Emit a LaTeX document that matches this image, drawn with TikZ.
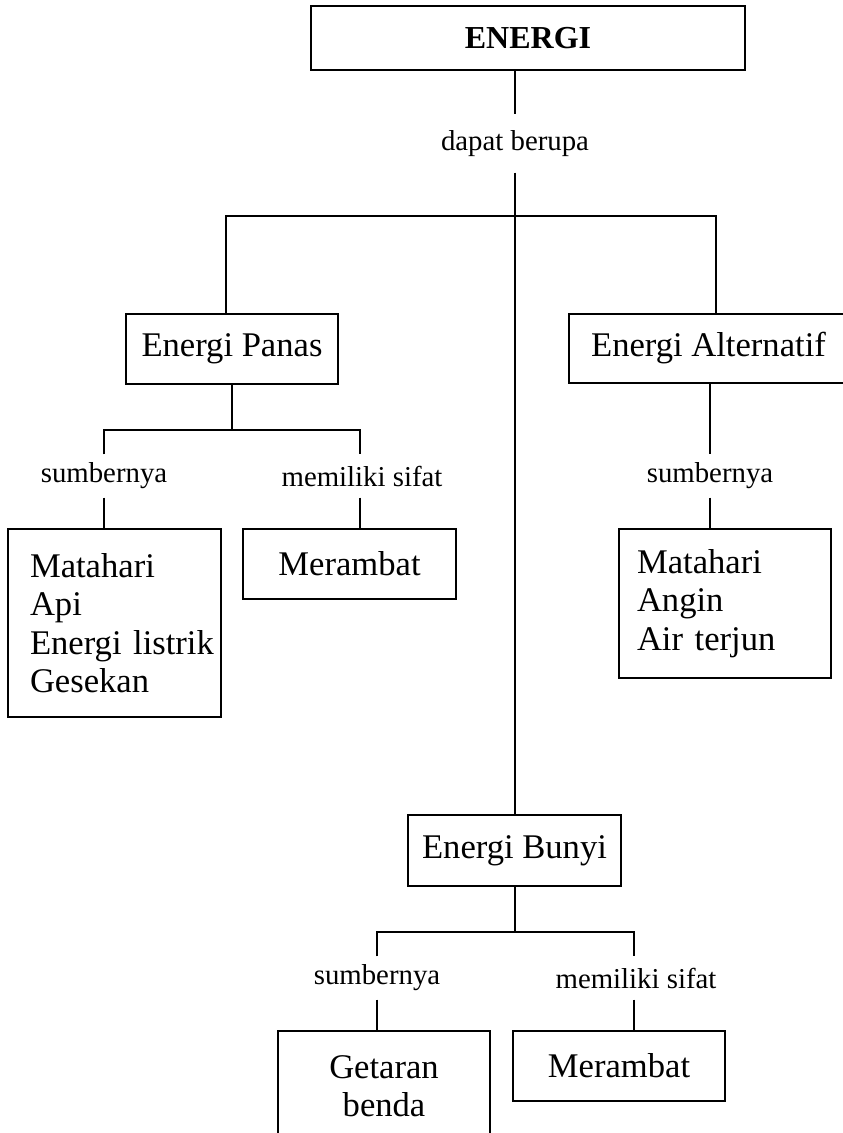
\documentclass[tikz,border=0pt]{standalone}
\usepackage{fontspec}
\setmainfont{Liberation Serif}
\usepackage{tikz}
\usetikzlibrary{positioning,calc}

\begin{document}
\begin{tikzpicture}[x=0.5pt, y=-0.5pt, line width=0.7pt,
  box/.style={draw, inner sep=0pt, fill=white, font=\fontsize{17.3}{19.25}\selectfont},
  lbl/.style={inner sep=0pt, minimum height=21pt, font=\fontsize{14.4}{16}\selectfont}]
\useasboundingbox (0,0) rectangle (842,1133);
% top
\node[box, minimum width=217pt, minimum height=32pt, font=\fontsize{16}{19}\selectfont\bfseries] (energi) at (528,38) {ENERGI};
\node[lbl, minimum height=28.5pt] (berupa) at (515,143.5) {dapat berupa};
\draw (energi.south -| berupa) -- (berupa.north);
% three kinds
\node[box, minimum width=106pt, minimum height=35pt] (panas) at (232,349) {Energi Panas};
\node[box, minimum width=139.5pt, minimum height=34.5pt] (alt) at (708.5,348.5) {Energi Alternatif};
\node[box, minimum width=106.5pt, minimum height=35.5pt] (bunyi) at (514.5,850.5) {Energi Bunyi};
\coordinate (jl) at (226,216);
\coordinate (jr) at (716,216);
\draw (jl |- panas.north) -- (jl) -- (jr) -- (jr |- alt.north);
\draw (berupa.south) -- (berupa.south |- bunyi.north);
% energi panas
\coordinate (pl) at (104,430);
\coordinate (pr) at (360,430);
\draw (panas.south) -- (panas.south |- pl);
\node[lbl] (psumber) at (104,476) {sumbernya};
\node[lbl] (psifat) at (362,476) {memiliki sifat};
\draw (psumber.north -| pl) -- (pl) -- (pr) -- (psifat.north -| pr);
\node[box, minimum height=94pt, text width=84.5pt, inner xsep=11pt, align=left] (psrc) at (114.5,623)
  {Matahari\\Api\\Energi~listrik\\Gesekan};
\node[box, minimum width=106.5pt, minimum height=35pt] (psft) at (349.5,564) {Merambat};
\draw (psumber.south -| pl) -- (psrc.north -| pl);
\draw (psifat.south -| pr) -- (psft.north -| pr);
% energi alternatif
\node[lbl] (asumber) at (710,476) {sumbernya};
\draw (alt.south -| asumber) -- (asumber.north);
\node[box, minimum height=74.5pt, text width=88pt, inner xsep=9pt, align=left] (asrc) at (725,603.5)
  {Matahari\\Angin\\Air~terjun};
\draw (asumber.south) -- (asumber.south |- asrc.north);
% energi bunyi
\coordinate (bl) at (377,932);
\coordinate (br) at (634,932);
\draw (bunyi.south -| berupa) -- (berupa |- bl);
\node[lbl] (bsumber) at (377,978) {sumbernya};
\node[lbl] (bsifat) at (636,978) {memiliki sifat};
\draw (bsumber.north -| bl) -- (bl) -- (br) -- (bsifat.north -| br);
\node[box, minimum width=106pt, minimum height=55pt, align=center] (bsrc) at (384,1086) {Getaran\\benda};
\node[box, minimum width=106pt, minimum height=35pt] (bsft) at (619,1066) {Merambat};
\draw (bsumber.south -| bl) -- (bsrc.north -| bl);
\draw (bsifat.south -| br) -- (bsft.north -| br);
\end{tikzpicture}
\end{document}
